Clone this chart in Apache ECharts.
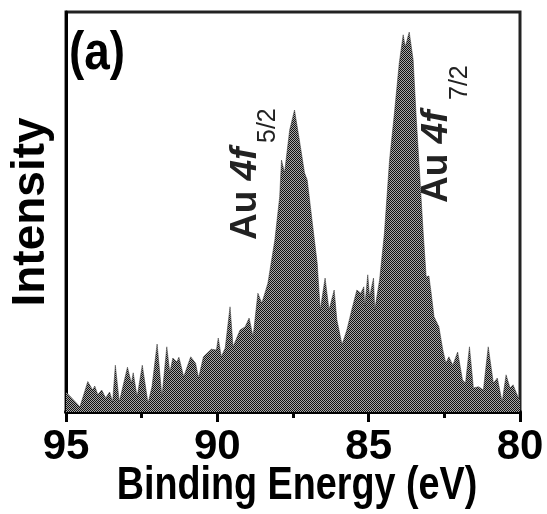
<!DOCTYPE html>
<html>
<head>
    <meta charset="UTF-8">
    <style type="text/css">
        body { margin: 0; padding: 0; overflow: hidden; background: #fff; }
        #chart { width: 547px; height: 514px; }
    </style>
</head>
<body>
    <div id="chart"></div>
    <script src="https://cdn.jsdelivr.net/npm/echarts@6/dist/echarts.min.js"></script>
    <script>
        // binding energy (eV) and normalised intensity
        let energy = [95.0, 94.54, 94.28, 94.12, 94.05, 93.95, 93.82, 93.69, 93.56, 93.46, 93.37, 93.24,
            92.97, 92.84, 92.78, 92.65, 92.48, 92.29, 92.16, 91.99, 91.83, 91.67, 91.57, 91.47, 91.34, 91.27,
            91.11, 90.88, 90.72, 90.62, 90.46, 90.20, 90.03, 89.97, 89.87, 89.74, 89.58, 89.48, 89.25, 89.08,
            88.95, 88.82, 88.66, 88.53, 88.33, 88.10, 87.94, 87.88, 87.78, 87.61, 87.45, 87.29, 87.12, 87.03,
            86.86, 86.70, 86.60, 86.44, 86.31, 86.14, 86.05, 85.88, 85.72, 85.56, 85.39, 85.26, 85.16, 85.13,
            85.03, 84.97, 84.84, 84.80, 84.64, 84.48, 84.31, 84.15, 83.99, 83.86, 83.79, 83.66, 83.53, 83.43,
            83.33, 83.20, 83.10, 83.01, 82.94, 82.84, 82.68, 82.55, 82.45, 82.35, 82.22, 82.06, 81.90, 81.80,
            81.67, 81.54, 81.37, 81.21, 81.05, 80.88, 80.75, 80.59, 80.46, 80.33, 80.23, 80.07, 80.0];
        let intensity = [0.05, 0.013, 0.076, 0.055, 0.065, 0.043, 0.055, 0.035, 0.05, 0.025, 0.117, 0.025,
            0.112, 0.072, 0.098, 0.038, 0.117, 0.022, 0.063, 0.17, 0.038, 0.163, 0.098, 0.135, 0.125, 0.137,
            0.088, 0.138, 0.122, 0.085, 0.138, 0.157, 0.155, 0.185, 0.138, 0.16, 0.263, 0.163, 0.205, 0.213,
            0.235, 0.188, 0.297, 0.272, 0.322, 0.43, 0.538, 0.63, 0.598, 0.705, 0.755, 0.68, 0.598, 0.58,
            0.472, 0.372, 0.255, 0.335, 0.255, 0.305, 0.23, 0.168, 0.205, 0.255, 0.305, 0.297, 0.313, 0.263,
            0.343, 0.288, 0.335, 0.255, 0.33, 0.447, 0.63, 0.747, 0.872, 0.943, 0.913, 0.95, 0.88, 0.738,
            0.613, 0.45, 0.338, 0.34, 0.30, 0.238, 0.213, 0.155, 0.122, 0.138, 0.117, 0.15, 0.08, 0.072,
            0.163, 0.06, 0.063, 0.055, 0.163, 0.072, 0.085, 0.025, 0.093, 0.06, 0.068, 0.038, 0.03];
        let xTicks = [95, 90, 85, 80];

        let SANS = '"Liberation Sans", Arial, sans-serif';

        let data = energy.map((e, i) => [e, intensity[i]]);

        // small checker tile to imitate the dithered grey fill
        let tile = document.createElement('canvas');
        tile.width = 2;
        tile.height = 2;
        let tctx = tile.getContext('2d');
        tctx.fillStyle = '#a8a8a8';
        tctx.fillRect(0, 0, 2, 2);
        tctx.fillStyle = '#111';
        tctx.fillRect(0, 0, 1, 1);
        tctx.fillRect(1, 1, 1, 1);

        var myChart = echarts.init(document.getElementById('chart'));
        let option = {
            animation: false,
            grid: {
                left: 61, right: 27, top: 12, bottom: 102,
                show: true, borderColor: '#222', borderWidth: 3
            },
            xAxis: {
                type: 'value',
                min: 80, max: 95, interval: 5, inverse: true,
                axisLine: { lineStyle: { color: '#000', width: 4 } },
                axisTick: { show: true, length: 10, lineStyle: { color: '#000', width: 3 } },
                minorTick: { show: true, splitNumber: 2, length: 6, lineStyle: { color: '#000', width: 3 } },
                splitLine: { show: false },
                axisLabel: {
                    fontFamily: SANS, fontWeight: 'bold', fontSize: 42, color: '#000', margin: 14,
                    formatter: v => xTicks.indexOf(v) >= 0 ? String(v) : ''
                }
            },
            yAxis: {
                type: 'value',
                min: 0, max: 1,
                name: 'Intensity',
                nameLocation: 'middle',
                nameGap: 12,
                nameRotate: 90,
                nameTextStyle: { fontFamily: SANS, fontWeight: 'bold', fontSize: 46, color: '#000' },
                axisLine: { show: true, lineStyle: { color: '#000', width: 3 } },
                axisTick: { show: false },
                axisLabel: { show: false },
                splitLine: { show: false }
            },
            graphic: [
                {
                    // x axis title, squeezed like the narrow type of the figure
                    type: 'text', x: 297, y: 486, scaleX: 0.82,
                    style: {
                        text: 'Binding Energy (eV)', fontFamily: SANS, fontWeight: 'bold', fontSize: 46, fill: '#000',
                        align: 'center', verticalAlign: 'middle'
                    }
                },
                {
                    type: 'text', x: 69, y: 54, scaleX: 0.85,
                    style: { text: '(a)', fontFamily: SANS, fontWeight: 'bold', fontSize: 54, fill: '#000', align: 'left', verticalAlign: 'middle' }
                },
                {
                    type: 'text', x: 246, y: 240, rotation: Math.PI / 2,
                    style: {
                        text: 'Au {i|4f}', fontFamily: SANS, fontWeight: 'bold', fontSize: 37, fill: '#222',
                        align: 'left', verticalAlign: 'middle',
                        rich: { i: { fontFamily: SANS, fontWeight: 'bold', fontStyle: 'italic', fontSize: 37, fill: '#222' } }
                    }
                },
                {
                    type: 'text', x: 268, y: 143, rotation: Math.PI / 2,
                    style: { text: '5/2', fontFamily: SANS, fontSize: 25, fill: '#222', align: 'left', verticalAlign: 'middle' }
                },
                {
                    type: 'text', x: 437, y: 203, rotation: Math.PI / 2,
                    style: {
                        text: 'Au {i|4f}', fontFamily: SANS, fontWeight: 'bold', fontSize: 37, fill: '#222',
                        align: 'left', verticalAlign: 'middle',
                        rich: { i: { fontFamily: SANS, fontWeight: 'bold', fontStyle: 'italic', fontSize: 37, fill: '#222' } }
                    }
                },
                {
                    type: 'text', x: 460, y: 100, rotation: Math.PI / 2,
                    style: { text: '7/2', fontFamily: SANS, fontSize: 25, fill: '#222', align: 'left', verticalAlign: 'middle' }
                }
            ],
            series: [
                {
                    type: 'line',
                    data: data,
                    showSymbol: false,
                    lineStyle: { width: 0.5, color: '#333' },
                    areaStyle: { color: { image: tile, repeat: 'repeat' }, opacity: 1 }
                }
            ]
        };
        myChart.setOption(option);
    </script>
</body>
</html>
